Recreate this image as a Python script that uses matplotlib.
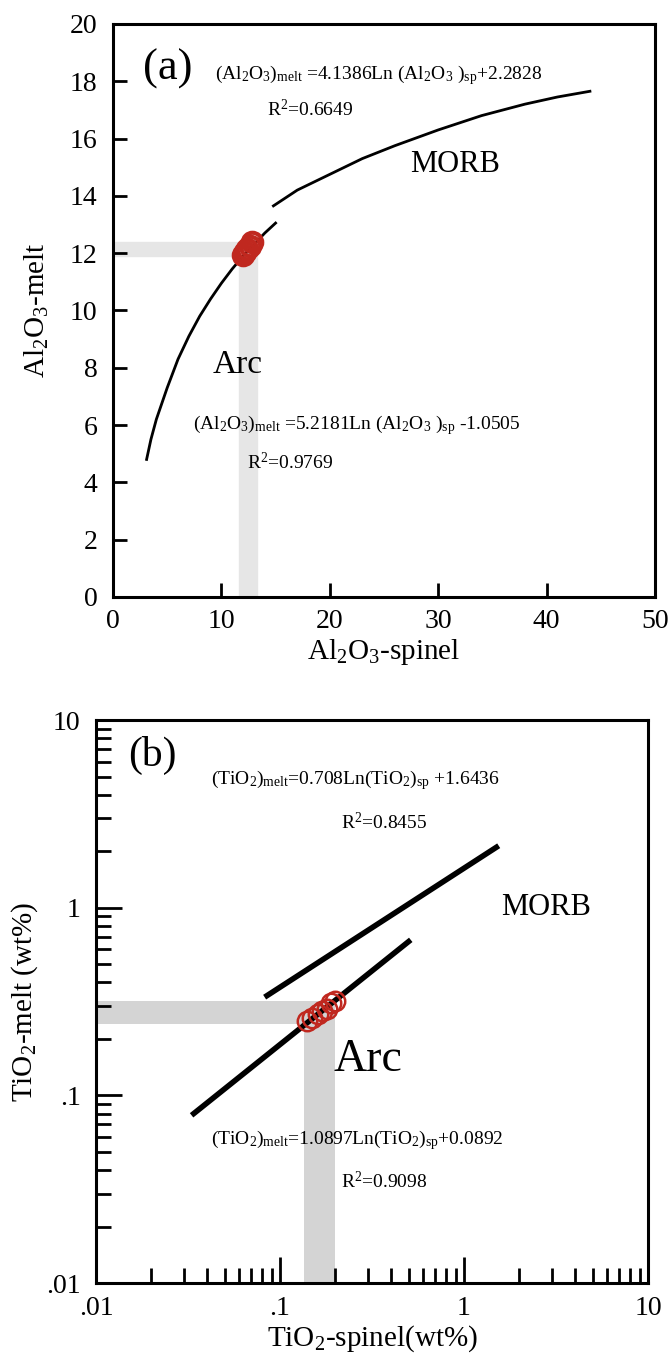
import matplotlib
matplotlib.use("Agg")
import matplotlib.pyplot as plt

plt.rcParams["font.family"] = ["Liberation Serif", "DejaVu Serif"]
plt.rcParams["mathtext.fontset"] = "custom"
plt.rcParams["mathtext.rm"] = "Liberation Serif"
plt.rcParams["mathtext.it"] = "Liberation Serif:italic"

# ---------------------------------------------------------------------------
# (a) Al2O3 data
# ---------------------------------------------------------------------------
al_arc_sp    = [3.1, 3.5, 4, 5, 6, 7, 8, 9, 10, 11, 12, 13, 14, 15]
al_arc_melt  = [4.8, 5.5, 6.2, 7.3, 8.3, 9.1, 9.8, 10.4, 10.95, 11.45, 11.9, 12.3, 12.7, 13.05]
al_morb_sp   = [14.8, 17, 20, 23, 26, 30, 34, 38, 41, 44]
al_morb_melt = [13.65, 14.2, 14.75, 15.3, 15.75, 16.3, 16.8, 17.2, 17.45, 17.65]
al_samp_sp   = [12.0, 12.2, 12.4, 12.6, 12.8]
al_samp_melt = [11.95, 12.05, 12.15, 12.25, 12.4]
al_band_sp   = (11.6, 13.3)
al_band_melt = (11.9, 12.4)

# ---------------------------------------------------------------------------
# (b) TiO2 data
# ---------------------------------------------------------------------------
ti_arc_sp    = [0.034, 0.5]
ti_arc_melt  = [0.08, 0.66]
ti_morb_sp   = [0.085, 1.5]
ti_morb_melt = [0.34, 2.1]
ti_samp_sp   = [0.14, 0.15, 0.16, 0.17, 0.18, 0.19, 0.20]
ti_samp_melt = [0.25, 0.26, 0.27, 0.28, 0.29, 0.31, 0.32]
ti_band_sp   = (0.135, 0.2)
ti_band_melt = (0.24, 0.32)
ti_ticks     = [0.01, 0.1, 1, 10]
ti_ticklbl   = [".01", ".1", "1", "10"]

RED = "#c0281f"
EQ = 14

fig = plt.figure(figsize=(6.71, 13.53), dpi=100)
ax1 = fig.add_axes([0.1684, 0.5588, 0.8077, 0.4235])
ax2 = fig.add_axes([0.143, 0.0517, 0.8227, 0.4161])

for ax in (ax1, ax2):
    for s in ax.spines.values():
        s.set_linewidth(2.2)
    ax.tick_params(direction="in", top=False, right=False, labelsize=20,
                   width=2, length=10)
    ax.tick_params(axis="x", pad=9)
    ax.tick_params(axis="y", pad=11)

# ---- panel (a) ------------------------------------------------------------
ax1.axhspan(*al_band_melt, xmin=0, xmax=al_band_sp[1] / 50 * 0.96, color="#e6e6e6", zorder=0)
ax1.axvspan(*al_band_sp, ymin=0, ymax=al_band_melt[1] / 20, color="#e6e6e6", zorder=0)
ax1.plot(al_arc_sp, al_arc_melt, color="black", lw=2)
ax1.plot(al_morb_sp, al_morb_melt, color="black", lw=2)
ax1.plot(al_samp_sp, al_samp_melt, "o", ms=14, mfc="none", mec=RED, mew=3)

ax1.set_xlim(0, 50)
ax1.set_ylim(0, 20)
ax1.set_xticks(range(0, 51, 10))
ax1.set_yticks(range(0, 21, 2))
ax1.set_xlabel("Al$_2$O$_3$-spinel", fontsize=21, labelpad=2)
ax1.set_ylabel("Al$_2$O$_3$-melt", fontsize=21, labelpad=14)

ax1.text(2.8, 18.45, "(a)", fontsize=32, va="center")
ax1.text(9.4, 18.2, r"(Al$_2$O$_3$)$_{\mathrm{melt}}$ =4.1386Ln (Al$_2$O$_3$ )$_{\mathrm{sp}}$+2.2828",
         fontsize=EQ, va="center")
ax1.text(14.2, 17.0, r"R$^2$=0.6649", fontsize=EQ, va="center")
ax1.text(27.4, 15.1, "MORB", fontsize=22, va="center")
ax1.text(9.2, 8.1, "Arc", fontsize=24, va="center")
ax1.text(7.4, 6.0, r"(Al$_2$O$_3$)$_{\mathrm{melt}}$ =5.2181Ln (Al$_2$O$_3$ )$_{\mathrm{sp}}$ -1.0505",
         fontsize=EQ, va="center")
ax1.text(12.4, 4.7, r"R$^2$=0.9769", fontsize=EQ, va="center")

# ---- panel (b) ------------------------------------------------------------
ax2.set_xscale("log")
ax2.set_yscale("log")
ax2.set_xlim(0.01, 10)
ax2.set_ylim(0.01, 10)
ax2.fill_between([0.01, ti_band_sp[1]], ti_band_melt[0], ti_band_melt[1], color="#d4d4d4", lw=0, zorder=0)
ax2.fill_betweenx([0.01, ti_band_melt[1]], ti_band_sp[0], ti_band_sp[1], color="#d4d4d4", lw=0, zorder=0)
ax2.plot(ti_arc_sp, ti_arc_melt, color="black", lw=4)
ax2.plot(ti_morb_sp, ti_morb_melt, color="black", lw=4)
ax2.plot(ti_samp_sp, ti_samp_melt, "o", ms=14, mfc="none", mec=RED, mew=1.8)

ax2.set_xticks(ti_ticks)
ax2.set_xticklabels(ti_ticklbl)
ax2.set_yticks(ti_ticks)
ax2.set_yticklabels(ti_ticklbl)
ax2.tick_params(which="major", length=19)
ax2.tick_params(which="minor", direction="in", length=11, width=2, top=False, right=False)
ax2.set_xlabel("TiO$_2$-spinel(wt%)", fontsize=21, labelpad=2)
ax2.set_ylabel("TiO$_2$-melt (wt%)", fontsize=21, labelpad=4)

ax2.text(0.0149, 6.5, "(b)", fontsize=30, va="center")
ax2.text(0.042, 4.8, r"(TiO$_2$)$_{\mathrm{melt}}$=0.708Ln(TiO$_2$)$_{\mathrm{sp}}$ +1.6436",
         fontsize=EQ, va="center")
ax2.text(0.215, 2.86, r"R$^2$=0.8455", fontsize=EQ, va="center")
ax2.text(1.6, 1.0, "MORB", fontsize=22, va="center")
ax2.text(0.195, 0.155, "Arc", fontsize=33, va="center")
ax2.text(0.042, 0.058, r"(TiO$_2$)$_{\mathrm{melt}}$=1.0897Ln(TiO$_2$)$_{\mathrm{sp}}$+0.0892",
         fontsize=EQ, va="center")
ax2.text(0.215, 0.0346, r"R$^2$=0.9098", fontsize=EQ, va="center")

fig.savefig("out.png", dpi=100)
